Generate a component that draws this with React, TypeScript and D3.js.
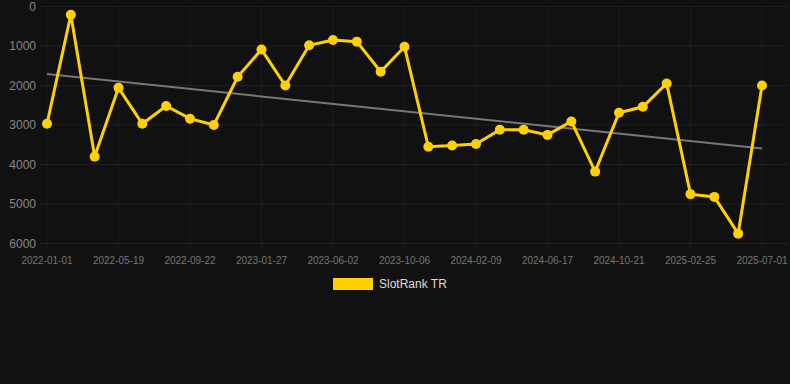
import React from "react";
import * as d3 from "d3";

const categories = [
  "2022-01-01", "2022-02-16", "2022-04-03", "2022-05-19", "2022-06-30", "2022-08-11",
  "2022-09-22", "2022-11-03", "2022-12-16", "2023-01-27", "2023-03-10", "2023-04-21",
  "2023-06-02", "2023-07-14", "2023-08-25", "2023-10-06", "2023-11-17", "2023-12-29",
  "2024-02-09", "2024-03-23", "2024-05-05", "2024-06-17", "2024-07-29", "2024-09-09",
  "2024-10-21", "2024-12-03", "2025-01-14", "2025-02-25", "2025-04-08", "2025-05-20",
  "2025-07-01",
];
const rankTR = [
  2970, 210, 3800, 2060, 2970, 2520, 2840, 3000, 1780, 1090, 2000, 980, 850, 890, 1650,
  1020, 3550, 3520, 3480, 3120, 3120, 3250, 2910, 4180, 2690, 2540, 1950, 4750, 4820,
  5750, 2000,
];
const xTickLabels = [
  "2022-01-01", "2022-05-19", "2022-09-22", "2023-01-27", "2023-06-02", "2023-10-06",
  "2024-02-09", "2024-06-17", "2024-10-21", "2025-02-25", "2025-07-01",
];
const yTicks = [0, 1000, 2000, 3000, 4000, 5000, 6000];
const seriesName = "SlotRank TR";

const W = 790;
const H = 384;
const left = 40;
const right = 788;
const x0 = 47;
const x1 = 762;
const top = 6.5;
const bottom = 243.5;

export default function App() {
  const x = d3.scalePoint<string>().domain(categories).range([x0, x1]);
  const y = d3.scaleLinear().domain([0, 6000]).range([top, bottom]);

  const line = d3
    .line<number>()
    .x((_, i) => x(categories[i]) as number)
    .y((d) => y(d));

  // least-squares trend line over the index
  const n = rankTR.length;
  const idx = d3.range(n);
  const mx = d3.mean(idx) as number;
  const my = d3.mean(rankTR) as number;
  const slope =
    d3.sum(idx, (i) => (i - mx) * (rankTR[i] - my)) / d3.sum(idx, (i) => (i - mx) ** 2);
  const icpt = my - slope * mx;
  const trendStart = icpt;
  const trendEnd = icpt + slope * (n - 1);

  const font = "'Liberation Sans', Arial, Helvetica, sans-serif";

  return (
    <svg
      width={W}
      height={H}
      style={{ position: "absolute", left: 0, top: 0, background: "#111111" }}
      fontFamily={font}
    >
      <rect x={0} y={0} width={W} height={H} fill="#111111" />
      {/* horizontal grid */}
      {yTicks.map((t) => (
        <line
          key={"h" + t}
          x1={left}
          x2={right}
          y1={y(t)}
          y2={y(t)}
          stroke="#1f1f1f"
          strokeWidth={1}
        />
      ))}
      {/* vertical grid */}
      {xTickLabels.map((c) => (
        <line
          key={"v" + c}
          x1={x(c)}
          x2={x(c)}
          y1={top}
          y2={bottom + 6}
          stroke="#1c1c1c"
          strokeWidth={1}
        />
      ))}
      {/* y labels */}
      {yTicks.map((t) => (
        <text
          key={"yl" + t}
          x={36}
          y={y(t)}
          dy="0.35em"
          textAnchor="end"
          fontSize={12}
          fill="#888888"
        >
          {t}
        </text>
      ))}
      {/* x labels */}
      {xTickLabels.map((c) => (
        <text
          key={"xl" + c}
          x={x(c)}
          y={260}
          dy="0.35em"
          textAnchor="middle"
          fontSize={10}
          fill="#777777"
        >
          {c}
        </text>
      ))}
      {/* trend */}
      <line
        x1={x(categories[0])}
        x2={x(categories[n - 1])}
        y1={y(trendStart)}
        y2={y(trendEnd)}
        stroke="#777777"
        strokeWidth={2}
      />
      {/* series */}
      <path d={line(rankTR) ?? ""} fill="none" stroke="#FFD000" strokeWidth={3} />
      {rankTR.map((v, i) => (
        <circle key={"p" + i} cx={x(categories[i])} cy={y(v)} r={5} fill="#FFD000" />
      ))}
      {/* legend */}
      <rect x={333} y={278} width={40} height={12} fill="#FFD000" />
      <text x={379} y={284} dy="0.35em" fontSize={12} fill="#dddddd">
        {seriesName}
      </text>
    </svg>
  );
}
